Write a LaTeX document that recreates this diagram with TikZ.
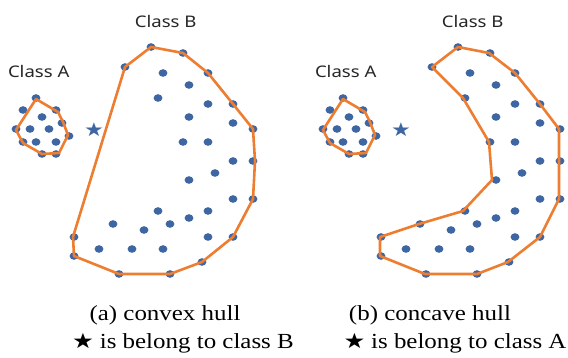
\documentclass[tikz,border=0pt]{standalone}
\usepackage{graphicx}
\usepackage{fontspec}
\setmainfont{Liberation Serif}
\newfontfamily\labfont{Noto Sans}
\newfontfamily\djv{DejaVu Sans}
\definecolor{dotblue}{RGB}{62,102,162}
\definecolor{hullorange}{RGB}{237,125,49}
\tikzset{
  dotmark/.style={fill=dotblue, draw=none},
  hullline/.style={draw=hullorange, line width=2.6pt, line join=round},
  classlab/.style={inner sep=0pt, anchor=base, font=\labfont\fontsize{16}{18}\selectfont, text=black!85},
  captxt/.style={inner sep=0pt, anchor=base, font=\fontsize{21.5}{24}\selectfont},
  starmark/.style={inner sep=0pt, text=dotblue, font=\djv\fontsize{19}{19}\selectfont}
}
\newcommand{\sx}[1]{\scalebox{1.16}[1]{#1}}
\newcommand{\ptsA}{36/98, 23/110, 56/110, 42/117, 62/123, 16/129, 30/129, 49/129, 69/136, 23/142, 36/142, 56/142, 42/154, 56/154}
\newcommand{\ptsB}{151/47, 183/53, 125/67, 208/73, 233/104, 253/129, 253/161, 253/199, 233/237, 202/262, 170/274, 119/274, 74/256, 74/237,
163/73, 189/85, 158/98, 208/104, 189/117, 233/123, 183/142, 208/142, 233/161, 215/173, 189/180, 233/199, 158/211, 208/211, 189/218, 170/224, 113/224, 144/230, 208/237, 99/249, 132/249, 163/249}
\begin{document}
\begin{tikzpicture}[x=1pt, y=-1pt]
\useasboundingbox (0,0) rectangle (568,357);
% ---------- panel (a) ----------
\begin{scope}
  \foreach \px/\py in \ptsA { \fill[dotmark] (\px,\py) ellipse [x radius=4.4, y radius=3.8]; }
  \foreach \px/\py in \ptsB { \fill[dotmark] (\px,\py) ellipse [x radius=4.4, y radius=3.8]; }
  \draw[hullline] (36,99) -- (58,112) -- (63,122) -- (68,135) -- (59,153) -- (42,154) -- (23,143) -- (16,130) -- cycle;
  \draw[hullline] (151,47) -- (183,53) -- (208,73) -- (233,104) -- (253,129) -- (255,161) -- (253,199) -- (233,237) -- (202,262) -- (170,274) -- (119,274) -- (74,256) -- (73,237) -- (125,67) -- cycle;
  \node[starmark] (starA) at (94,130) {\sx{★}};
  \node[classlab] (labA1) at (38.7,77.7) {\sx{Class A}};
  \node[classlab] (labB1) at (165.7,27.7) {\sx{Class B}};
\end{scope}
% ---------- panel (b) ----------
\begin{scope}[xshift=307pt]
  \foreach \px/\py in \ptsA { \fill[dotmark] (\px,\py) ellipse [x radius=4.4, y radius=3.8]; }
  \foreach \px/\py in \ptsB { \fill[dotmark] (\px,\py) ellipse [x radius=4.4, y radius=3.8]; }
  \draw[hullline] (36,99) -- (58,112) -- (63,122) -- (68,135) -- (59,153) -- (42,154) -- (23,143) -- (16,130) -- cycle;
  \draw[hullline] (151,47) -- (182,53) -- (208,73) -- (233,104) -- (252,129) -- (252,161) -- (252,199) -- (233,237) -- (201,262) -- (170,274) -- (118,274) -- (73,256) -- (73,237) -- (112,224) -- (156,211) -- (185,180) -- (182,142) -- (156,98) -- (125,67) -- cycle;
  \node[starmark] (starB) at (94,130) {\sx{★}};
  \node[classlab] (labA2) at (38.7,77.7) {\sx{Class A}};
  \node[classlab] (labB2) at (165.7,27.7) {\sx{Class B}};
\end{scope}
% ---------- captions ----------
\node[captxt] (capa) at (165,320) {\sx{(a) convex hull}};
\node[captxt] (capb) at (430,320) {\sx{(b) concave hull}};
\node[captxt] (nota) at (183,348) {\sx{{\djv\fontsize{21}{21}\selectfont ★}\hspace{5pt}is belong to class B}};
\node[captxt] (notb) at (455,348) {\sx{{\djv\fontsize{21}{21}\selectfont ★}\hspace{5pt}is belong to class A}};
\end{tikzpicture}
\end{document}
